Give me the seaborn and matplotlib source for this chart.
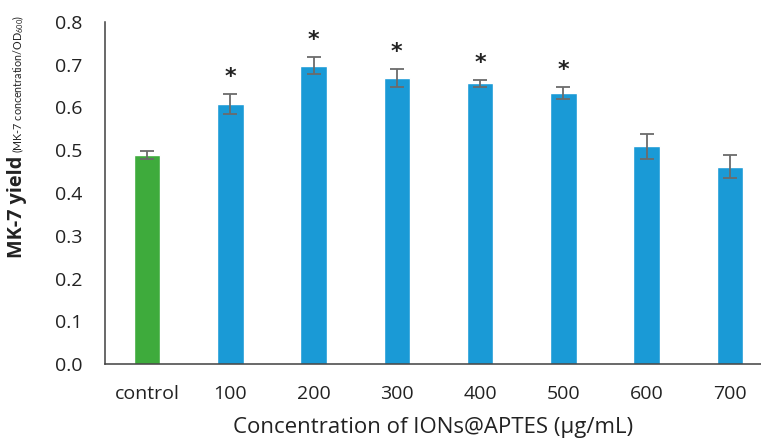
import numpy as np
import pandas as pd
import matplotlib
matplotlib.use('Agg')
import matplotlib.pyplot as plt
import seaborn as sns

# dados
categories = ['control', '100', '200', '300', '400', '500', '600', '700']
yields = [0.489, 0.608, 0.698, 0.668, 0.657, 0.634, 0.509, 0.461]
errors = [0.010, 0.023, 0.019, 0.021, 0.008, 0.013, 0.030, 0.027]
significant = [False, True, True, True, True, True, False, False]
bar_colors = ['#3EAB3C'] + ['#1A9AD6'] * 7

sns.set_theme(style='white')
plt.rcParams['font.family'] = ['Open Sans', 'DejaVu Sans']
plt.rcParams['mathtext.default'] = 'regular'

df = pd.DataFrame({'conc': categories, 'yield': yields})

fig = plt.figure(figsize=(7.61, 4.45), dpi=100)
ax = fig.add_axes([0.138, 0.182, 0.862, 0.7686])

sns.barplot(data=df, x='conc', y='yield', hue='conc', palette=bar_colors,
            width=0.32, legend=False, ax=ax, saturation=1)
ax.errorbar(np.arange(len(categories)), yields, yerr=errors, fmt='none',
            ecolor='#6b6b6b', elinewidth=1.3, capsize=4.8, capthick=1.3)

for i, (v, e, s) in enumerate(zip(yields, errors, significant)):
    if s:
        ax.text(i, v + e + 0.040, '*', ha='center', va='center',
                fontsize=16, fontweight='bold', color='#222222', family='DejaVu Sans')

ax.set_ylim(0, 0.8)
ax.set_xlim(-0.504, 7.372)
ax.set_yticks(np.arange(0, 0.81, 0.1))
ax.set_yticklabels([f'{t:.1f}' for t in np.arange(0, 0.81, 0.1)])
ax.tick_params(axis='both', labelsize=14, colors='#222222', length=0)
ax.tick_params(axis='x', pad=15)
ax.tick_params(axis='y', pad=16)

ax.set_xlabel('Concentration of IONs@APTES (µg/mL)', fontsize=16, color='#222222', labelpad=10)
ax.set_ylabel('')

sns.despine(ax=ax)
for sp in ['left', 'bottom']:
    ax.spines[sp].set_color('#404040')
    ax.spines[sp].set_linewidth(1.1)

# rotulo do eixo y com duas partes (negrito + menor com subscrito)
fig.canvas.draw()
r = fig.canvas.get_renderer()
H = fig.bbox.height


def fit_text(x, y, s, target_px, size, **kw):
    t = fig.text(x, y, s, rotation=90, ha='center', va='bottom', fontsize=size, **kw)
    h = t.get_window_extent(r).height
    t.set_fontsize(size * target_px / h)
    return t


t1 = fit_text(17 / 761, 1 - 258 / 445, 'MK-7 yield', 103, 14,
              fontweight='bold', color='#222222')
y2 = t1.get_window_extent(r).y1 / H + 3 / 445
fit_text(18 / 761, y2, r'(MK-7 concentration/OD$_{600}$)', 138, 10.5,
         color='#222222', family='Lato')

fig.savefig('out.png', dpi=100)
